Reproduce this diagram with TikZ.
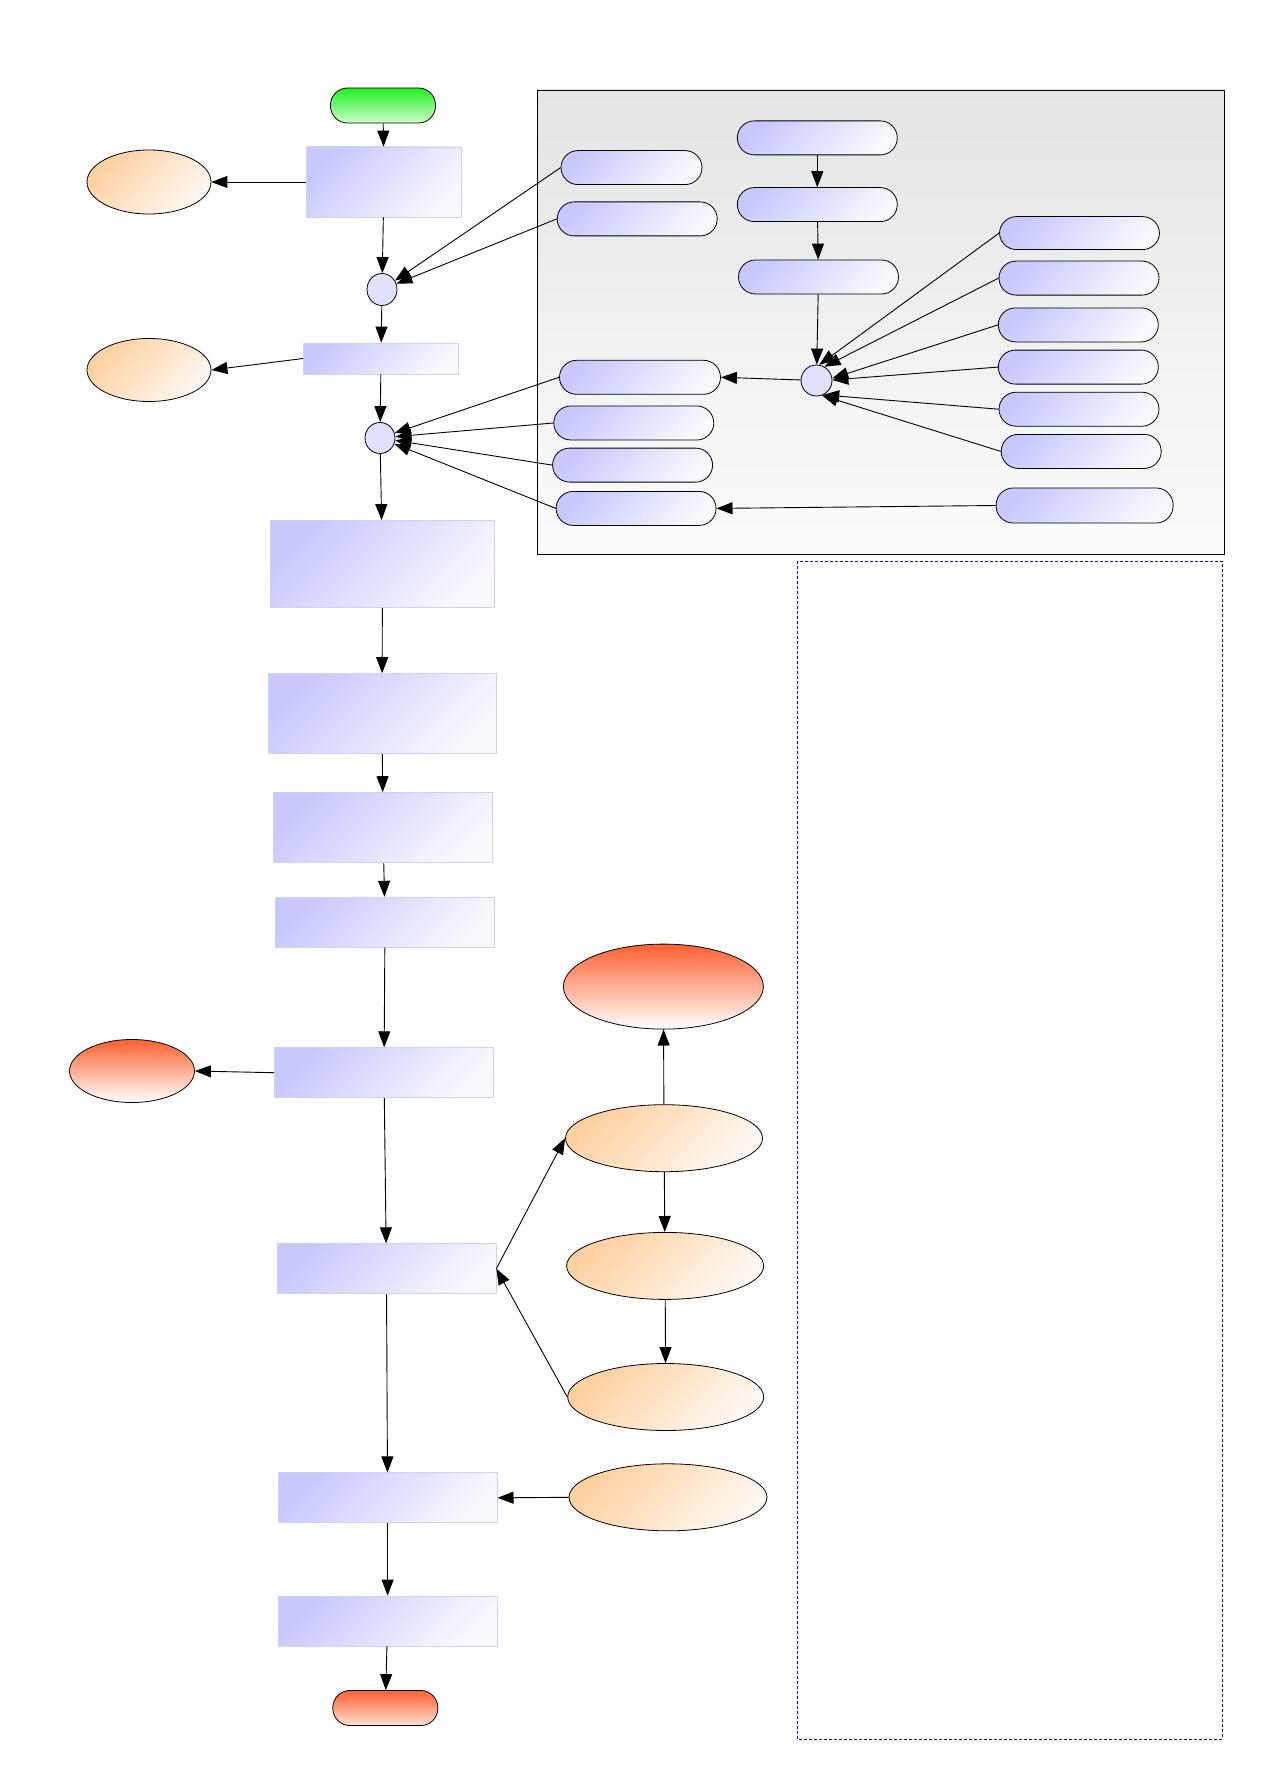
\documentclass[tikz,border=0pt]{standalone}
\usetikzlibrary{arrows.meta,shapes.geometric}
\definecolor{lavA}{HTML}{C8C8FF}
\definecolor{lavB}{HTML}{F8F8FF}
\definecolor{lavBorder}{HTML}{D0D0F4}
\definecolor{orA}{HTML}{FFD0A0}
\definecolor{orB}{HTML}{FFF8F2}
\definecolor{redA}{HTML}{FF6030}
\definecolor{redB}{HTML}{FFFFFF}
\definecolor{grA}{HTML}{22EE22}
\definecolor{grB}{HTML}{D0FFD0}
\definecolor{panA}{HTML}{E4E4E4}
\definecolor{panB}{HTML}{FCFCFC}
\definecolor{hubfill}{HTML}{E0E0FF}
\tikzset{
  edge/.style={draw=black, line width=0.9pt, -{Triangle[length=16pt,width=12pt]}},
  procbox/.style={rectangle, draw=lavBorder, line width=0.8pt, top color=lavA, bottom color=lavB, shading angle=45, inner sep=0pt},
  pill/.style={rectangle, rounded corners=17pt, draw=black, line width=0.8pt, top color=lavA, bottom color=lavB, shading angle=45, inner sep=0pt, minimum height=34pt},
  orell/.style={ellipse, draw=black, line width=0.8pt, top color=orA, bottom color=orB, shading angle=45, inner sep=0pt},
  redell/.style={ellipse, draw=black, line width=0.8pt, top color=redA, bottom color=redB, inner sep=0pt},
  hubcirc/.style={ellipse, draw=black, line width=0.8pt, fill=hubfill, inner sep=0pt},
}
\begin{document}
\begin{tikzpicture}[x=1pt,y=-1pt]
\useasboundingbox (0,0) rectangle (1263,1787);
% panel and dashed frame
\shade[top color=panA, bottom color=panB] (537,90) rectangle (1224,554);
\draw[black, line width=0.9pt] (537,90) rectangle (1224,554);
\draw[blue, line width=0.9pt, dash pattern=on 3pt off 2pt] (797,561) rectangle (1222,1739);

% main column
\node[rectangle, rounded corners=17pt, draw=black, line width=0.8pt, top color=grA, bottom color=grB, minimum width=105pt, minimum height=35pt, inner sep=0pt] (start) at (383,105.5) {};
\node[procbox, minimum width=155pt, minimum height=70pt] (b1) at (384,182) {};
\node[orell, minimum width=124pt, minimum height=64pt] (e1) at (149,182) {};
\node[hubcirc, minimum width=30pt, minimum height=32pt] (c1) at (382,289.5) {};
\node[procbox, minimum width=155pt, minimum height=31pt] (b2) at (381,358.5) {};
\node[orell, minimum width=124pt, minimum height=63pt] (e2) at (149,370) {};
\node[hubcirc, minimum width=30pt, minimum height=31pt] (c2) at (380,438) {};
\node[procbox, minimum width=224pt, minimum height=87pt] (b3) at (382.5,564) {};
\node[procbox, minimum width=228pt, minimum height=80pt] (b4) at (382,713.6) {};
\node[procbox, minimum width=219pt, minimum height=70pt] (b5) at (383,827.6) {};
\node[procbox, minimum width=219pt, minimum height=50pt] (b6) at (385,922.2) {};
\node[procbox, minimum width=219pt, minimum height=50pt] (b7) at (384,1072.7) {};
\node[redell, minimum width=125pt, minimum height=63pt] (rl) at (132,1071) {};
\node[procbox, minimum width=219pt, minimum height=50pt] (b8) at (386.4,1268.7) {};
\node[procbox, minimum width=219pt, minimum height=50pt] (b9) at (387.6,1497.8) {};
\node[procbox, minimum width=219pt, minimum height=50pt] (b10) at (387.6,1621) {};
\node[rectangle, rounded corners=17pt, draw=black, line width=0.8pt, top color=redA, bottom color=redB!80!redA, minimum width=105pt, minimum height=35pt, inner sep=0pt] (end) at (385.3,1708) {};

% right ellipses
\node[redell, minimum width=200pt, minimum height=85pt] (rb) at (663.4,986.6) {};
\node[orell, minimum width=197pt, minimum height=67pt] (o1) at (664,1138.2) {};
\node[orell, minimum width=197pt, minimum height=67pt] (o2) at (665.1,1265.9) {};
\node[orell, minimum width=196pt, minimum height=67pt] (o3) at (665.7,1397) {};
\node[orell, minimum width=198pt, minimum height=67pt] (o4) at (668,1497.3) {};

% panel pills
\node[pill, minimum width=141pt] (p1) at (631.5,167.6) {};
\node[pill, minimum width=160pt] (p2) at (637.2,218.9) {};
\node[pill, minimum width=160pt] (q1) at (817.3,137.9) {};
\node[pill, minimum width=160pt] (q2) at (817.3,204.6) {};
\node[pill, minimum width=160pt] (q3) at (818.5,277) {};
\node[hubcirc, minimum width=31pt, minimum height=31pt] (hub) at (816.5,380.5) {};
\node[pill, minimum width=161pt] (l1) at (640,377.3) {};
\node[pill, minimum width=160pt] (l2) at (633.8,423) {};
\node[pill, minimum width=160pt] (l3) at (632.6,465.1) {};
\node[pill, minimum width=160pt] (l4) at (636.1,508.4) {};
\node[pill, minimum width=160pt, minimum height=33pt] (r1) at (1079.5,233.1) {};
\node[pill, minimum width=160pt] (r2) at (1079,278.1) {};
\node[pill, minimum width=160pt] (r3) at (1078.3,324.9) {};
\node[pill, minimum width=160pt] (r4) at (1078.3,367.1) {};
\node[pill, minimum width=160pt] (r5) at (1079,409.2) {};
\node[pill, minimum width=160pt] (r6) at (1081.2,451.4) {};
\node[pill, minimum width=177pt, minimum height=35pt] (r7) at (1084.6,505.5) {};

% edges main column
\draw[edge] (start) -- (b1);
\draw[edge] (b1.west) -- (e1.east);
\draw[edge] (b1) -- (c1);
\draw[edge] (p1.west) -- (c1);
\draw[edge] (p2.west) -- (c1);
\draw[edge] (c1) -- (b2);
\draw[edge] (b2.west) -- (e2.east);
\draw[edge] (b2) -- (c2);
\draw[edge] (l1.west) -- (c2);
\draw[edge] (l2.west) -- (c2);
\draw[edge] (l3.west) -- (c2);
\draw[edge] (l4.west) -- (c2);
\draw[edge] (c2) -- (b3);
\draw[edge] (b3) -- (b4);
\draw[edge] (b4) -- (b5);
\draw[edge] (b5) -- (b6);
\draw[edge] (b6) -- (b7);
\draw[edge] (b7.west) -- (rl.east);
\draw[edge] (b7) -- (b8);
\draw[edge] (b8.east) -- (o1.west);
\draw[edge] (o3.west) -- (b8.east);
\draw[edge] (o1) -- (rb);
\draw[edge] (o1) -- (o2);
\draw[edge] (o2) -- (o3);
\draw[edge] (o4.west) -- (b9.east);
\draw[edge] (b8) -- (b9);
\draw[edge] (b9) -- (b10);
\draw[edge] (b10) -- (end);

% panel edges
\draw[edge] (q1) -- (q2);
\draw[edge] (q2) -- (q3);
\draw[edge] (q3) -- (hub);
\draw[edge] (r1.west) -- (hub.80);
\draw[edge] (r2.west) -- (hub.60);
\draw[edge] (r3.west) -- (hub.8);
\draw[edge] (r4.west) -- (hub.2);
\draw[edge] (r5.west) -- (hub.-65);
\draw[edge] (r6.west) -- (hub.-70);
\draw[edge] (hub) -- (l1.east);
\draw[edge] (r7.west) -- (l4.east);
\end{tikzpicture}
\end{document}
